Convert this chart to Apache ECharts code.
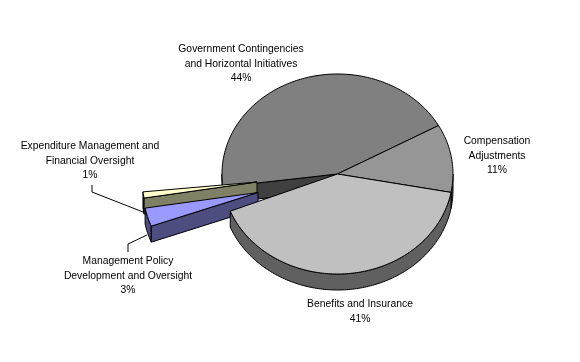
<!DOCTYPE html>
<html><head><meta charset="utf-8">
<style>html,body{margin:0;padding:0;background:#fff}#c{width:580px;height:362px}</style>
<script src="https://cdn.jsdelivr.net/npm/echarts@6/dist/echarts.min.js"></script>
</head><body><div id="c"></div>
<script>
// Data, clockwise from the first slice
var categories = ['Compensation Adjustments','Benefits and Insurance','Management Policy Development and Oversight','Expenditure Management and Financial Oversight','Government Contingencies and Horizontal Initiatives'];
var values = [11,41,3,1,44];
var labelLines = [
  ['Compensation','Adjustments'],
  ['Benefits and Insurance'],
  ['Management Policy','Development and Oversight'],
  ['Expenditure Management and','Financial Oversight'],
  ['Government Contingencies','and Horizontal Initiatives']
];
// Presentation
var topColors  = ['#969696','#c0c0c0','#9999ff','#ffffcc','#808080'];
var wallColors = ['#4b4b4b','#606060','#4d4d80','#808066','#404040'];
var arcWallColors = ['#4b4b4b','#606060','#4d4d80','#3a3a2e','#404040'];
var drawRank = [3,4,2,1,0];
var tips   = [[337.5,174],[337.5,174],[258,192.5],[257,182],[337.5,174]];
var shifts = [[0,0],[0,0],[-79,15],[-80,5],[0,0]];
var labelPos = [[497,134],[360,297],[128,254],[90,139],[241,42]];
var leaders = [null,null,[[128,252],[128,244],[147,235]],[[92,185],[92,192],[143,212]],null];
var cx=337.5, cy=174, rx=115.5, ry=100, depth=16, startDeg=29;

var total = values.reduce(function(a,b){return a+b;},0);
var spans = []; (function(){var t=startDeg;values.forEach(function(v){var e=t-v/total*360;spans.push([t,e]);t=e;});})();
function pt(d,s){var r=d*Math.PI/180;return [cx+s[0]+rx*Math.cos(r),cy+s[1]-ry*Math.sin(r)];}
function arc(a,b,s){var n=Math.max(2,Math.ceil(Math.abs(a-b))),o=[];for(var i=0;i<=n;i++)o.push(pt(a+(b-a)*i/n,s));return o;}
function down(p){return [p[0],p[1]+depth];}
function poly(points,fill,z){return {type:'polygon',z2:z,shape:{points:points},style:{fill:fill,stroke:'#000',lineWidth:1}};}

function renderItem(params,api){
  var i=params.dataIndex, s=shifts[i], tip=tips[i], a=spans[i][0], b=spans[i][1], z=drawRank[i]*10, kids=[];
  // rim: lower half of the ellipse only
  [[a,b],[a-360,b-360],[a+360,b+360]].forEach(function(r){
    var hi=Math.min(r[0],0), lo=Math.max(r[1],-180);
    if(hi>lo){var top=arc(hi,lo,s);kids.push(poly(top.concat(top.map(down).reverse()),arcWallColors[i],z));}
  });
  // near radial wall, on the leading edge of slices that face the viewer
  if(i>=2){var e=pt(a,s);kids.push(poly([tip,e,down(e),down(tip)],wallColors[i],z+1));}
  // top face
  kids.push(poly([tip].concat(arc(a,b,s)),topColors[i],z+2));
  // leader
  if(leaders[i])kids.push({type:'polyline',z2:100,shape:{points:leaders[i]},style:{fill:null,stroke:'#000',lineWidth:1}});
  // label
  var pct=Math.round(api.value(0)/total*100)+'%';
  kids.push({type:'text',z2:101,style:{x:labelPos[i][0],y:labelPos[i][1],text:labelLines[i].concat([pct]).join('\n'),
    fill:'#000',font:'10.35px "Liberation Sans", Arial, sans-serif',align:'center',verticalAlign:'top',textAlign:'center',lineHeight:14.6}});
  return {type:'group',children:kids};
}
var chart=echarts.init(document.getElementById('c'),null,{renderer:'canvas'});
chart.setOption({animation:false,backgroundColor:'#fff',
  series:[{type:'custom',coordinateSystem:'none',renderItem:renderItem,
    data:values.map(function(v,i){return {name:categories[i],value:[v]};})}]});
</script></body></html>
